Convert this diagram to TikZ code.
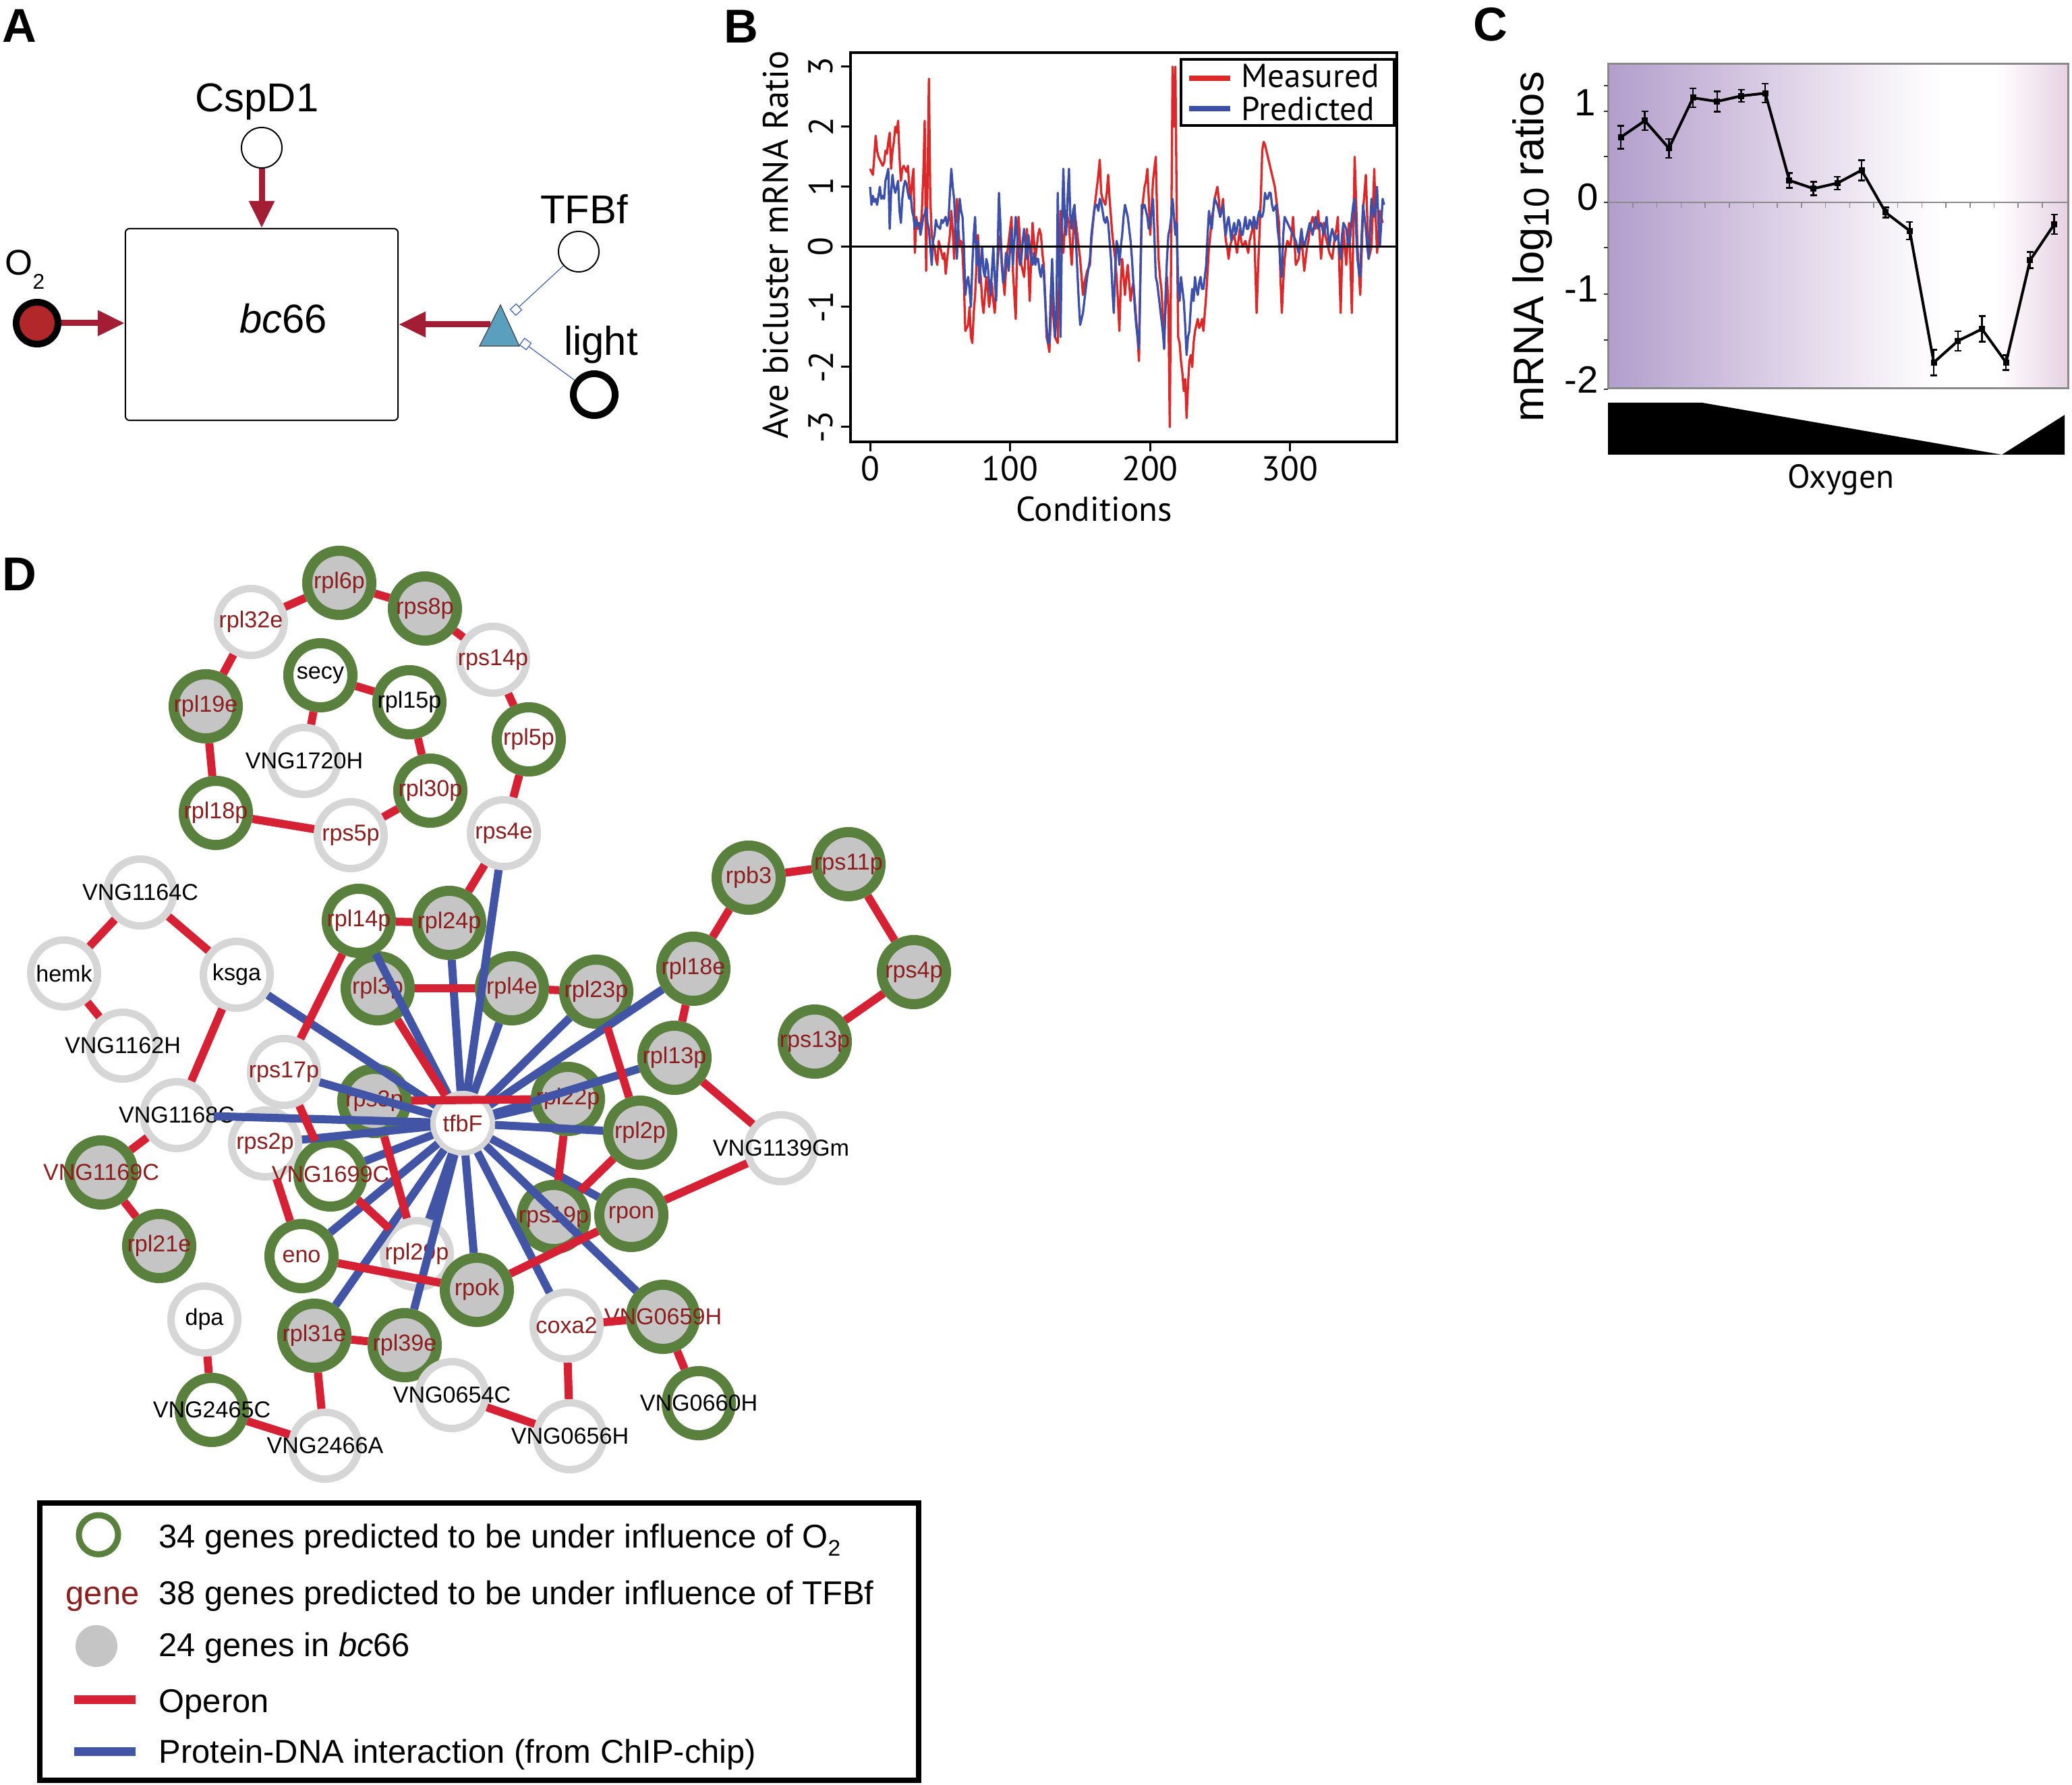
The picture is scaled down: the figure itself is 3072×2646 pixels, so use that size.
\documentclass[tikz,border=0pt]{standalone}
\usepackage{fontspec}
\setmainfont{Liberation Sans}
\newfontfamily\pts{PT Sans}
\usetikzlibrary{arrows.meta}
\definecolor{rgreen}{RGB}{90,128,62}
\definecolor{rgray}{RGB}{214,214,214}
\definecolor{fgray}{RGB}{197,197,197}
\definecolor{lred}{RGB}{140,30,30}
\definecolor{opred}{RGB}{214,32,52}
\definecolor{pdblue}{RGB}{66,84,166}
\definecolor{adark}{RGB}{163,30,52}
\definecolor{o2red}{RGB}{178,40,42}
\definecolor{tricol}{RGB}{90,160,190}
\definecolor{thinblue}{RGB}{64,96,176}
\definecolor{bred}{RGB}{220,40,40}
\definecolor{bblue}{RGB}{60,80,170}
\definecolor{cp0}{RGB}{178,158,204}
\definecolor{cp1}{RGB}{208,192,222}
\definecolor{cp2}{RGB}{246,242,248}
\definecolor{cp3}{RGB}{231,210,228}
\definecolor{cgray}{RGB}{138,138,138}
\newcommand\lblfont{\fontsize{9.7}{11}\selectfont}
\newcommand\afont{\fontsize{17}{20}\selectfont}
\newcommand\legfont{\fontsize{13.9}{16}\selectfont}
\newcommand\bfnt{\pts\fontsize{14.5}{17}\selectfont}
\newcommand\ctick{\fontsize{16}{19}\selectfont}
\newcommand\gnd[5]{\node[#1,label={[#2]center:#5}] (#5) at (#3,#4) {};}
\tikzset{
  plab/.style={font=\fontsize{20}{24}\selectfont\bfseries, inner sep=0, anchor=base west},
  atext/.style={font=\afont, inner sep=0, anchor=base},
  aarrow/.style={draw=adark, line width=0.09cm, -{Triangle[length=0.4cm, width=0.36cm]}},
  gn/.style={circle, draw=rgreen, line width=0.15cm, minimum size=0.95cm, inner sep=0},
  yn/.style={circle, draw=rgray, line width=0.11cm, minimum size=0.99cm, inner sep=0},
  tn/.style={circle, draw=rgray, line width=0.08cm, minimum size=0.88cm, inner sep=0, fill=white},
  fg/.style={fill=fgray}, fw/.style={fill=white},
  rl/.style={text=lred, font=\lblfont, inner sep=0},
  kl/.style={text=black, font=\lblfont, inner sep=0},
  op/.style={draw=opred, line width=0.12cm},
  pd/.style={draw=pdblue, line width=0.12cm},
  btext/.style={font=\bfnt, inner sep=0},
  legtext/.style={font=\legfont, inner sep=0, anchor=base west},
}
\begin{document}
\begin{tikzpicture}[x=0.01cm,y=-0.01cm]
\useasboundingbox (0,0) rectangle (3072,2646);

% ---------------- panel letters
\node[plab] (labA) at (3,63) {A};
\node[plab] (labB) at (1073,64) {B};
\node[plab] (labC) at (2184,61) {C};
\node[plab] (labD) at (3,876) {D};

% ---------------- panel A
\node[draw, line width=0.02cm, rounded corners=0.06cm, minimum width=4.04cm, minimum height=2.84cm, inner sep=0] (box) at (388,481) {};
\node[atext] (bclab) at (420,494) {\itshape bc\upshape 66};
\node[circle, draw, line width=0.02cm, minimum size=0.6cm, inner sep=0, fill=white] (cspd) at (388,219) {};
\node[atext] (cspdlab) at (381,166) {CspD1};
\draw[aarrow] (cspd) -- (box);
\node[circle, draw, line width=0.1cm, minimum size=0.62cm, inner sep=0, fill=o2red] (o2) at (55,479) {};
\node[font=\fontsize{15}{18}\selectfont, inner sep=0, anchor=base west] (o2lab) at (7,408) {O\raisebox{-0.2cm}{\fontsize{9}{10}\selectfont 2}};
\draw[aarrow] (o2) -- (o2 -| box.west);
\draw[fill=tricol, draw=black!75, line width=0.012cm] (742,452) -- (711,513) -- (770,513) -- cycle;
\coordinate (trileft) at (727,481);
\draw[aarrow] (trileft) -- (trileft -| box.east);
\node[circle, draw, line width=0.02cm, minimum size=0.6cm, inner sep=0, fill=white] (tfbfc) at (858,373) {};
\node[atext] (tfbflab) at (866,332) {TFBf};
\node[circle, draw, line width=0.1cm, minimum size=0.62cm, inner sep=0, fill=white] (lightc) at (881,585) {};
\node[atext] (lightlab) at (891,527) {light};
\node[draw=thinblue, fill=white, line width=0.012cm, minimum size=0.12cm, inner sep=0, rotate=42] (sq1) at (765,459) {};
\node[draw=thinblue, fill=white, line width=0.012cm, minimum size=0.12cm, inner sep=0, rotate=-36] (sq2) at (779,510) {};
\draw[thinblue, line width=0.012cm] (tfbfc) -- (sq1);
\draw[thinblue, line width=0.012cm] (lightc) -- (sq2);

% ---------------- panel B
\node[btext, rotate=90] (bytitle) at (1150,363) {\fontsize{15}{18}\selectfont Ave bicluster mRNA Ratio};
\foreach \v in {-3,...,3} {
  \draw[line width=0.03cm] (1261,{366-89*\v}) -- (1247,{366-89*\v});
  \node[btext, rotate=90] at (1217,{366-89*\v}) {\v};
}
\foreach \c in {0,100,200,300} {
  \draw[line width=0.03cm] ({1290+2.075*\c},655) -- ({1290+2.075*\c},669);
  \node[btext] at ({1290+2.075*\c},695) {\c};
}
\node[btext] (bxtitle) at (1622,755) {Conditions};
\begin{scope}[shift={(1290,366)}, x=0.02075cm, y=0.89cm]
\draw[bred, line width=0.033cm, line join=round] plot coordinates {(0,1.3)(1,1.25)(2,1.2)(3,1.5)(4,1.85)(5,1.6)(6,1.5)(7,1.45)(8,1.4)(9,1.35)(10,1.4)(11,1.6)(12,1.55)(13,1.75)(14,1.9)(15,1.3)(16,1.6)(17,1.75)(18,2.0)(19,1.9)(20,2.1)(21,1.5)(22,1.1)(23,1.3)(24,1.35)(25,1.3)(26,1.25)(27,1.35)(28,1.0)(29,0.8)(30,1.1)(31,1.3)(32,-0.1)(33,0.5)(34,0.3)(35,0.4)(36,0.3)(37,0.6)(38,1.2)(39,2.1)(40,-0.4)(41,1.0)(42,2.8)(43,0.8)(44,0.2)(45,0.05)(46,0.0)(47,-0.2)(48,-0.3)(49,0.1)(50,0.0)(51,-0.1)(52,-0.2)(53,-0.1)(54,-0.45)(55,-0.2)(56,0.0)(57,0.2)(58,0.6)(59,0.3)(60,-0.2)(61,0.4)(62,0.8)(63,0.3)(64,0.0)(65,0.1)(66,-0.1)(67,-0.6)(68,-1.4)(69,-1.35)(70,-1.3)(71,-1.0)(72,-1.5)(73,-1.6)(74,-1.1)(75,-0.8)(76,-0.3)(77,0.2)(78,-0.2)(79,-0.5)(80,-0.9)(81,-1.1)(82,-0.8)(83,-0.5)(84,-0.7)(85,-1.0)(86,-0.8)(87,-0.6)(88,-0.9)(89,-1.1)(90,-0.7)(91,-0.3)(92,0.0)(93,0.2)(94,-0.2)(95,-0.5)(96,-0.8)(97,-0.4)(98,-0.1)(99,0.1)(100,0.3)(101,0.5)(102,-0.4)(103,-0.8)(104,-1.2)(105,0.0)(106,0.5)(107,0.1)(108,-0.3)(109,-0.4)(110,-0.5)(111,-0.1)(112,0.3)(113,-0.3)(114,-0.9)(115,-0.2)(116,0.4)(117,0.1)(118,-0.2)(119,0.0)(120,0.2)(121,0.3)(122,0.2)(123,-0.1)(124,-0.3)(125,-0.8)(126,-1.5)(127,-1.6)(128,-1.75)(129,-1.2)(130,-0.8)(131,-1.2)(132,-1.5)(133,-1.55)(134,-1.6)(135,-0.5)(136,0.6)(137,0.2)(138,-0.1)(139,0.3)(140,0.6)(141,0.5)(142,0.4)(143,0.0)(144,-0.3)(145,0.2)(146,0.6)(147,0.4)(148,0.2)(149,0.0)(150,-0.2)(151,-0.5)(152,-0.8)(153,-0.6)(154,-0.5)(155,-0.4)(157,-0.3)(158,0.1)(160,0.6)(161,0.8)(162,1.0)(163,1.2)(164,1.45)(165,0.9)(166,0.8)(167,0.75)(168,0.7)(169,0.9)(170,1.2)(171,0.8)(172,0.5)(173,0.2)(174,0.0)(175,-0.2)(176,-0.5)(177,-0.9)(178,-1.4)(179,-0.6)(180,-0.2)(181,-0.5)(182,-0.8)(183,-0.5)(184,-0.3)(185,-0.6)(186,-0.9)(187,-0.7)(188,-0.6)(189,-0.9)(190,-1.2)(191,-1.5)(192,-1.9)(193,-0.5)(194,0.5)(195,0.8)(196,1.0)(197,1.1)(198,1.3)(199,0.8)(200,0.2)(201,0.6)(202,1.1)(203,1.3)(204,1.5)(205,0.5)(206,-0.2)(207,-0.5)(208,-0.7)(209,-1.1)(210,-1.5)(211,-1.0)(212,-0.5)(213,-1.0)(214,-3.0)(215,0.0)(216,3.0)(217,2.0)(218,3.0)(219,0.5)(220,-1.5)(221,-1.6)(222,-1.9)(223,-2.1)(224,-2.4)(225,-2.2)(226,-2.85)(227,-2.3)(228,-1.9)(229,-1.8)(230,-2.0)(231,-1.6)(232,-1.4)(233,-1.3)(234,-1.2)(235,-1.35)(236,-1.3)(237,-1.2)(238,-1.4)(239,-1.1)(240,-0.8)(241,-0.4)(242,0.0)(243,0.2)(244,0.5)(245,0.6)(246,0.8)(247,0.9)(248,1.0)(249,0.8)(250,0.5)(251,0.6)(252,0.8)(253,0.4)(254,0.1)(255,0.0)(256,-0.2)(257,0.0)(258,0.1)(259,0.15)(260,0.2)(261,0.05)(262,-0.1)(263,0.1)(264,0.3)(265,0.1)(266,0.0)(267,0.05)(268,0.1)(269,0.0)(270,-0.1)(271,0.1)(272,0.2)(273,0.3)(274,0.5)(275,-0.3)(276,-1.1)(277,-0.4)(278,0.2)(279,0.8)(280,1.6)(281,1.75)(282,1.7)(283,1.6)(284,1.5)(285,1.4)(286,1.3)(287,1.2)(288,1.1)(289,1.0)(290,0.8)(291,0.6)(292,0.4)(293,-0.5)(294,-1.1)(295,-0.6)(296,-0.2)(297,0.0)(298,0.1)(299,0.05)(300,0.0)(301,0.2)(302,0.5)(303,0.1)(304,-0.3)(305,-0.25)(306,-0.2)(307,0.0)(308,0.1)(309,-0.1)(310,-0.4)(311,-0.2)(312,0.0)(313,0.1)(314,0.3)(315,0.4)(316,0.5)(317,0.4)(318,0.3)(319,0.4)(320,0.6)(321,0.2)(322,-0.2)(323,0.1)(324,0.4)(325,0.2)(326,0.1)(327,0.0)(328,-0.1)(329,-0.15)(330,-0.2)(331,0.0)(332,0.2)(333,0.3)(334,0.5)(335,-0.3)(336,-1.1)(337,-0.2)(338,0.3)(339,0.0)(340,-0.3)(341,0.1)(342,0.4)(343,-0.3)(344,-1.1)(345,0.2)(346,1.5)(347,0.8)(348,0.0)(349,-0.4)(350,-0.8)(351,-0.1)(352,0.6)(353,0.9)(354,1.2)(355,0.5)(356,-0.2)(357,-0.1)(358,0.0)(359,0.6)(360,1.3)(361,0.5)(362,-0.1)(363,0.2)(364,0.6)(365,0.5)(366,0.4)};
\draw[bblue, line width=0.033cm, line join=round] plot coordinates {(0,1.0)(1,0.7)(2,0.85)(3,0.75)(4,0.8)(5,0.7)(6,0.85)(7,1.0)(8,0.8)(9,0.85)(10,0.8)(11,1.1)(13,1.3)(14,0.3)(15,0.9)(16,1.2)(17,1.0)(18,0.9)(19,1.0)(20,1.1)(21,0.6)(22,0.4)(23,0.8)(24,1.0)(25,1.1)(26,1.05)(27,0.9)(28,0.8)(29,0.85)(30,0.6)(31,0.5)(32,0.3)(33,0.45)(34,0.35)(35,0.4)(36,0.2)(37,0.35)(38,0.5)(39,0.55)(40,0.65)(41,0.4)(42,0.3)(43,0.0)(44,-0.3)(45,0.1)(46,0.2)(47,0.45)(48,0.35)(50,0.3)(51,0.45)(52,0.4)(54,0.5)(55,0.35)(56,0.45)(57,0.9)(58,1.3)(59,1.0)(60,0.8)(61,0.3)(62,-0.2)(63,0.4)(64,0.8)(65,0.6)(66,0.5)(67,0.0)(68,-0.8)(69,-0.6)(70,-0.5)(71,-0.7)(72,-1.0)(73,-0.3)(74,0.2)(75,0.5)(76,-0.3)(77,0.1)(78,-0.6)(79,-0.3)(80,0.0)(81,-0.4)(82,-0.5)(83,-0.2)(84,-0.3)(85,-0.6)(86,-0.8)(87,-0.4)(88,0.0)(89,-0.5)(90,-0.9)(91,-0.2)(92,0.9)(93,0.4)(94,-0.3)(95,-0.6)(96,-0.5)(97,-0.1)(98,-0.2)(99,-0.4)(100,0.0)(101,0.3)(102,-0.3)(103,0.1)(104,0.5)(105,0.2)(106,-0.1)(107,-0.3)(108,-0.2)(109,0.1)(110,0.3)(111,0.0)(112,-0.2)(113,0.2)(114,0.0)(115,-0.2)(116,-0.3)(117,-0.1)(118,-0.3)(119,-0.2)(120,-0.2)(121,-0.4)(122,-0.5)(123,-0.3)(124,-0.4)(125,-0.9)(126,-1.3)(127,-1.6)(128,-1.6)(129,-0.8)(130,-0.2)(131,-0.9)(132,-1.5)(133,-1.2)(134,0.9)(135,-0.3)(136,-1.5)(137,0.3)(138,1.3)(139,0.5)(140,0.2)(141,0.8)(142,1.3)(143,0.5)(144,0.3)(145,0.6)(146,0.7)(147,0.1)(148,-0.4)(149,-0.9)(150,-1.3)(151,-1.2)(152,-1.1)(153,-0.9)(154,-0.7)(155,-0.5)(157,-0.2)(158,0.2)(160,0.6)(161,0.7)(162,0.7)(163,0.6)(164,0.8)(165,0.75)(166,0.6)(167,0.45)(168,0.4)(169,0.5)(170,0.4)(171,0.1)(172,-0.2)(173,-0.7)(174,-1.1)(175,-0.4)(176,0.1)(177,0.0)(178,-0.3)(179,0.0)(180,0.2)(181,0.5)(182,0.7)(183,0.6)(184,0.5)(185,0.3)(186,0.1)(187,-0.2)(188,-0.6)(189,-1.0)(190,-1.3)(191,-1.5)(192,-1.7)(193,-0.5)(194,0.7)(195,0.65)(196,0.7)(197,0.6)(198,0.5)(199,0.3)(200,0.4)(201,0.6)(202,0.8)(203,0.2)(204,-0.5)(205,-0.6)(206,-0.8)(207,-1.0)(208,-1.2)(209,-1.4)(210,-1.7)(211,-0.8)(212,-0.2)(213,0.2)(214,0.3)(215,0.5)(216,0.8)(217,0.5)(218,0.2)(219,0.4)(220,-0.7)(221,-0.9)(222,-0.5)(223,-0.7)(224,-0.9)(225,-1.3)(226,-1.8)(227,-1.5)(228,-1.4)(229,-1.0)(230,-0.7)(231,-0.9)(232,-0.5)(233,-0.7)(234,-0.8)(235,-0.6)(236,-0.5)(237,-0.7)(238,-0.7)(239,-0.5)(240,-0.3)(241,0.2)(242,0.6)(243,0.4)(244,0.3)(245,0.6)(246,0.8)(247,0.75)(248,0.7)(249,0.6)(250,0.5)(251,0.6)(252,0.7)(253,0.4)(254,0.2)(255,0.4)(256,0.5)(257,0.3)(258,0.1)(259,0.3)(260,0.4)(261,0.2)(262,0.3)(263,0.45)(264,0.4)(265,0.2)(266,0.2)(267,0.35)(268,0.5)(269,0.3)(270,0.3)(271,0.45)(272,0.4)(273,0.3)(274,0.5)(275,0.4)(276,0.3)(277,0.5)(278,0.6)(279,0.5)(280,0.5)(281,0.6)(282,0.9)(283,0.8)(284,0.8)(285,0.9)(286,0.9)(287,0.7)(288,0.6)(289,0.65)(290,0.7)(291,0.3)(292,0.1)(293,-0.3)(294,-0.5)(295,0.2)(296,0.5)(297,0.45)(298,0.4)(299,0.35)(300,0.3)(301,0.25)(302,0.2)(303,0.15)(304,0.1)(305,0.0)(306,-0.1)(307,0.1)(308,0.3)(309,0.1)(310,0.0)(311,0.1)(312,0.2)(313,0.3)(314,0.4)(315,0.3)(316,0.2)(317,0.35)(318,0.5)(319,0.4)(320,0.3)(321,0.35)(322,0.4)(323,0.3)(324,0.2)(325,0.35)(326,0.5)(327,0.2)(328,0.0)(329,0.2)(330,0.3)(331,0.2)(332,0.1)(333,0.15)(334,0.2)(335,0.0)(336,-0.2)(337,0.2)(338,0.4)(339,0.35)(340,0.3)(341,0.1)(342,0.0)(343,0.2)(344,0.5)(345,0.7)(346,0.8)(347,0.3)(348,-0.2)(349,-0.4)(350,-0.5)(351,0.2)(352,0.7)(353,0.5)(354,0.3)(355,0.0)(356,-0.2)(357,0.3)(358,0.8)(359,0.6)(360,0.5)(361,0.7)(362,1.0)(363,0.4)(364,0.0)(365,0.4)(366,0.8)(367,0.7)};
\end{scope}
\draw[line width=0.03cm] (1261,366) -- (2071,366);
\draw[line width=0.04cm] (1261,78) rectangle (2071,655);
\draw[fill=white, line width=0.04cm] (1751,88) rectangle (2067,186);
\draw[bred, line width=0.08cm] (1763,116) -- (1824,116);
\draw[bblue, line width=0.08cm] (1763,161) -- (1824,161);
\node[btext, anchor=west, font=\pts\fontsize{14}{16}\selectfont] (measured) at (1840,113) {Measured};
\node[btext, anchor=west, font=\pts\fontsize{14}{16}\selectfont] (predicted) at (1840,161) {Predicted};

% ---------------- panel C
\shade[left color=cp0, right color=cp1] (2384,95) rectangle (2561,576);
\shade[left color=cp1, right color=cp2] (2560,95) rectangle (2801,576);
\shade[left color=cp2, right color=white] (2800,95) rectangle (2881,576);
\fill[white] (2880,95) rectangle (2961,576);
\shade[left color=white, right color=cp3] (2960,95) rectangle (3066,576);
\draw[cgray, line width=0.03cm] (2384,95) rectangle (3066,576);
\foreach \ty in {127,165,232,300,367,436,504,577}
  \draw[black!80, line width=0.02cm] (2378,\ty) -- (2384,\ty);
\draw[cgray, line width=0.02cm] (2384,300) -- (3066,300);
\foreach \k in {0,...,17}
  \draw[cgray, line width=0.015cm] ({2421+35.7*\k},300) -- ({2421+35.7*\k},308);
\node[font=\ctick, inner sep=0, anchor=base east] at (2366,172) {1};
\node[font=\ctick, inner sep=0, anchor=base east] at (2370,312) {0};
\node[font=\ctick, inner sep=0, anchor=base east] at (2370,448) {-1};
\node[font=\ctick, inner sep=0, anchor=base east] at (2370,583) {-2};
\node[rotate=90, inner sep=0, font=\fontsize{18}{21}\selectfont] (cytitle) at (2272,366) {mRNA log\raisebox{-0.08cm}{\fontsize{15}{18}\selectfont 10} ratios};
\draw[line width=0.04cm, line join=round] plot coordinates {(2403,203.4)(2438.7,179)(2474.4,219.8)(2510.1,145)(2545.8,150.4)(2581.5,142.2)(2617.2,138.2)(2652.9,267.4)(2688.6,279.6)(2724.3,271.4)(2760,252.4)(2795.7,315)(2831.4,342.2)(2867.1,537.3)(2902.8,505.4)(2938.5,487.7)(2974.2,537.3)(3009.9,385.7)(3045.6,332.6)};
\foreach \px/\py/\e in {2403/203.4/17,2438.7/179/14,2474.4/219.8/14,2510.1/145/14,2545.8/150.4/15,2581.5/142.2/9,2617.2/138.2/14,2652.9/267.4/11,2688.6/279.6/10,2724.3/271.4/9.5,2760/252.4/15,2795.7/315/7.5,2831.4/342.2/13,2867.1/537.3/19,2902.8/505.4/14.5,2938.5/487.7/19,2974.2/537.3/11,3009.9/385.7/12,3045.6/332.6/14.5} {
  \draw[line width=0.025cm] (\px,{\py-\e}) -- (\px,{\py+\e});
  \draw[line width=0.025cm] ({\px-5},{\py-\e}) -- ({\px+5},{\py-\e});
  \draw[line width=0.025cm] ({\px-5},{\py+\e}) -- ({\px+5},{\py+\e});
  \fill ({\px-4.5},{\py-4.5}) rectangle ({\px+4.5},{\py+4.5});
}
\fill (2384,597) -- (2524,597) -- (2968,674) -- (3061,615) -- (3061,674) -- (2384,674) -- cycle;
\node[font=\pts\fontsize{14}{17}\selectfont, inner sep=0] (oxygen) at (2729,711) {Oxygen};

% ---------------- panel D nodes
\gnd{gn,fg}{rl}{503}{864}{rpl6p}
\gnd{gn,fg}{rl}{630}{902}{rps8p}
\gnd{yn,fw}{rl}{372}{922}{rpl32e}
\gnd{yn,fw}{rl}{731}{978}{rps14p}
\gnd{gn,fw}{kl}{475}{1001}{secy}
\gnd{gn,fw}{kl}{607}{1041}{rpl15p}
\gnd{gn,fg}{rl}{305}{1047}{rpl19e}
\gnd{gn,fw}{rl}{784}{1096}{rpl5p}
\gnd{yn,fw}{kl}{451}{1128}{VNG1720H}
\gnd{gn,fw}{rl}{638}{1172}{rpl30p}
\gnd{gn,fw}{rl}{320}{1205}{rpl18p}
\gnd{yn,fw}{rl}{520}{1238}{rps5p}
\gnd{yn,fw}{rl}{747}{1235}{rps4e}
\gnd{yn,fw}{kl}{208}{1323}{VNG1164C}
\gnd{yn,fw}{kl}{95}{1443}{hemk}
\gnd{yn,fw}{kl}{351}{1445}{ksga}
\gnd{yn,fw}{kl}{182}{1550}{VNG1162H}
\gnd{gn,fw}{rl}{532}{1365}{rpl14p}
\gnd{gn,fg}{rl}{666}{1368}{rpl24p}
\gnd{gn,fg}{rl}{560}{1465}{rpl3p}
\gnd{gn,fg}{rl}{759}{1465}{rpl4e}
\gnd{gn,fg}{rl}{884}{1470}{rpl23p}
\gnd{gn,fg}{rl}{1028}{1436}{rpl18e}
\gnd{gn,fg}{rl}{1110}{1301}{rpb3}
\gnd{gn,fg}{rl}{1258}{1281}{rps11p}
\gnd{gn,fg}{rl}{1355}{1441}{rps4p}
\gnd{gn,fg}{rl}{1208}{1544}{rps13p}
\gnd{gn,fg}{rl}{1000}{1568}{rpl13p}
\gnd{yn,fw}{rl}{421}{1589}{rps17p}
\gnd{gn,fg}{rl}{555}{1632}{rps3p}
\gnd{gn,fg}{rl}{842}{1629}{rpl22p}
\gnd{gn,fg}{rl}{949}{1679}{rpl2p}
\gnd{yn,fw}{kl}{1158}{1702}{VNG1139Gm}
\gnd{yn,fw}{kl}{262}{1653}{VNG1168C}
\gnd{yn,fw}{rl}{393}{1695}{rps2p}
\gnd{gn,fw}{rl}{490}{1741}{VNG1699C}
\gnd{gn,fg}{rl}{150}{1738}{VNG1169C}
\gnd{gn,fg}{rl}{821}{1804}{rps19p}
\gnd{gn,fg}{rl}{936}{1801}{rpon}
\gnd{gn,fg}{rl}{236}{1847}{rpl21e}
\gnd{gn,fw}{rl}{447}{1862}{eno}
\gnd{yn,fw}{rl}{618}{1859}{rpl29p}
\gnd{gn,fg}{rl}{707}{1912}{rpok}
\gnd{yn,fw}{kl}{303}{1956}{dpa}
\gnd{gn,fg}{rl}{466}{1980}{rpl31e}
\gnd{gn,fg}{rl}{600}{1994}{rpl39e}
\gnd{yn,fw}{rl}{840}{1965}{coxa2}
\gnd{gn,fg}{rl}{983}{1952}{VNG0659H}
\gnd{gn,fw}{kl}{1036}{2080}{VNG0660H}
\gnd{yn,fw}{kl}{670}{2068}{VNG0654C}
\gnd{yn,fw}{kl}{845}{2129}{VNG0656H}
\gnd{gn,fw}{kl}{314}{2090}{VNG2465C}
\gnd{yn,fw}{kl}{482}{2143}{VNG2466A}
\node[tn, label={[rl]center:tfbF}] (tfbF) at (686,1665) {};

% ---------------- panel D edges
\foreach \t in {ksga,rpl14p,rpl24p,rps4e,rpl4e,rpl23p,rpl18e,rpl13p,rpl22p,rpl2p,rpon,VNG0659H,coxa2,rpok,rpl39e,rpl31e,eno,VNG1699C,rps2p,VNG1168C,rps17p,rpl29p}
  \draw[pd] (tfbF) -- (\t);
\foreach \a/\b in {rpl32e/rpl6p,rpl6p/rps8p,rps8p/rps14p,rps14p/rpl5p,rpl5p/rps4e,rpl32e/rpl19e,rpl19e/rpl18p,rpl18p/rps5p,rps5p/rpl30p,rpl30p/rpl15p,rpl15p/secy,secy/VNG1720H,rps4e/rpl24p,rpl24p/rpl14p,VNG1164C/hemk,VNG1164C/ksga,hemk/VNG1162H,ksga/VNG1168C,VNG1168C/VNG1169C,VNG1169C/rpl21e,rpl14p/rps17p,rps17p/VNG1699C,rpl3p/rpl4e,rpl4e/rpl23p,rpl3p/tfbF,rps3p/rpl22p,rpl23p/rpl2p,rpl18e/rpl13p,rpl18e/rpb3,rpb3/rps11p,rps11p/rps4p,rps4p/rps13p,rpl13p/VNG1139Gm,VNG1139Gm/rpon,rpl22p/rps19p,rpl2p/rps19p,rpon/rpok,eno/rpok,rps2p/eno,VNG1699C/rpl29p,rps3p/rpl29p,rpl31e/rpl39e,rpl31e/VNG2466A,dpa/VNG2465C,VNG2465C/VNG2466A,VNG0654C/VNG0656H,coxa2/VNG0656H,coxa2/VNG0659H,VNG0659H/VNG0660H}
  \draw[op] (\a) -- (\b);

% ---------------- legend D
\draw[line width=0.08cm] (59,2228) rectangle (1362,2639);
\node[circle, draw=rgreen, line width=0.09cm, minimum size=0.58cm, inner sep=0] (lgO2) at (146,2275) {};
\node[font=\legfont, text=lred, inner sep=0, anchor=base west] (lggene) at (97,2378) {gene};
\node[circle, fill=fgray, minimum size=0.62cm, inner sep=0] (lgbc) at (143,2440) {};
\draw[opred, line width=0.13cm] (110,2519) -- (201,2519);
\draw[pdblue, line width=0.13cm] (110,2596) -- (201,2596);
\node[legtext] (lt1) at (235,2294) {34 genes predicted to be under influence of O\raisebox{-0.12cm}{\fontsize{9.5}{11}\selectfont 2}};
\node[legtext] (lt2) at (235,2378) {38 genes predicted to be under influence of TFBf};
\node[legtext] (lt3) at (235,2455) {24 genes in {\itshape bc}66};
\node[legtext] (lt4) at (235,2538) {Operon};
\node[legtext] (lt5) at (235,2613) {Protein-DNA interaction (from ChIP-chip)};
\end{tikzpicture}
\end{document}
